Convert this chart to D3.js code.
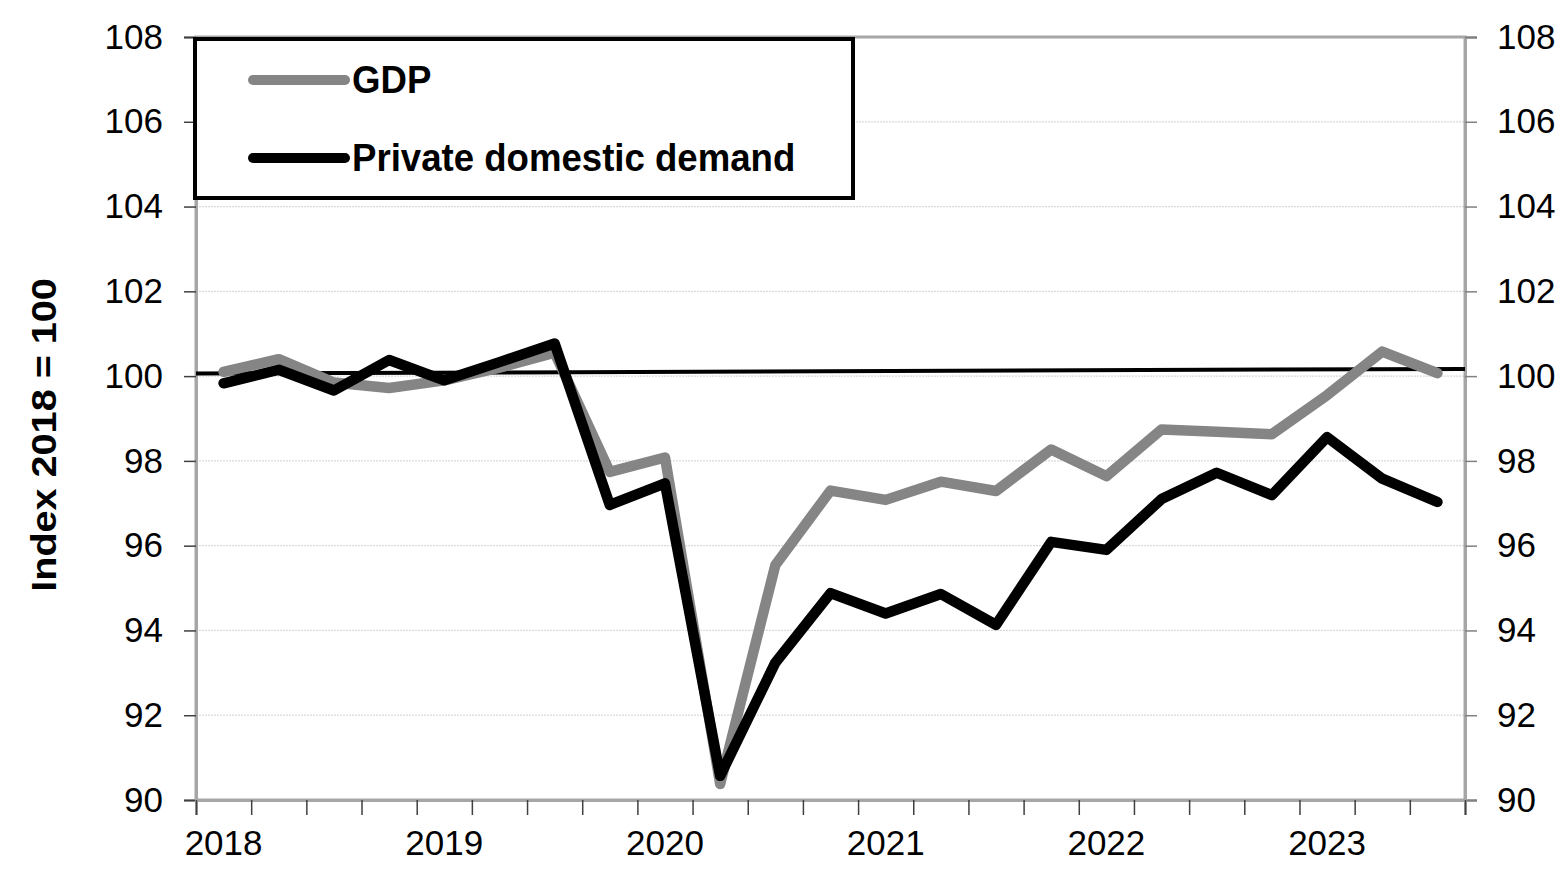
<!DOCTYPE html>
<html>
<head>
<meta charset="utf-8">
<script src="https://cdn.jsdelivr.net/npm/d3@7"></script>
<style>
  html, body { margin: 0; padding: 0; background: #ffffff; }
  svg { display: block; }
  text { font-family: "Liberation Sans", Arial, sans-serif; fill: #000; }
</style>
</head>
<body>
<svg id="chart" width="1565" height="884"></svg>
<script>
// ---- data ----
const quarters = [
  "2018Q1","2018Q2","2018Q3","2018Q4",
  "2019Q1","2019Q2","2019Q3","2019Q4",
  "2020Q1","2020Q2","2020Q3","2020Q4",
  "2021Q1","2021Q2","2021Q3","2021Q4",
  "2022Q1","2022Q2","2022Q3","2022Q4",
  "2023Q1","2023Q2","2023Q3"
];
const yearLabels = ["2018","2019","2020","2021","2022","2023"];
const gdp = [100.10, 100.40, 99.85, 99.72, 99.90, 100.20, 100.55, 97.74, 98.08, 90.38, 95.54, 97.30,
             97.08, 97.51, 97.29, 98.27, 97.64, 98.74, 98.69, 98.63, 99.55, 100.58, 100.07];
const privateDemand = [99.83, 100.15, 99.66, 100.38, 99.90, 100.33, 100.77, 96.96, 97.47, 90.57, 93.24, 94.88,
                       94.40, 94.86, 94.13, 96.09, 95.90, 97.10, 97.72, 97.19, 98.56, 97.58, 97.03];
const referenceLine = [100.06, 100.17]; // start / end of the horizontal reference line
const yTicks = [90, 92, 94, 96, 98, 100, 102, 104, 106, 108];
const seriesNames = ["GDP", "Private domestic demand"];
const yTitle = "Index 2018 = 100";

(function () {
// ---- layout ----
const mLeft = 196, mRight = 1465, mTop = 37, mBottom = 800;
const svg = d3.select("#chart");

const x = d3.scaleBand().domain(quarters).range([mLeft, mRight]).padding(0);
const bw = x.bandwidth();
const xEdge = d3.scaleLinear().domain([0, quarters.length]).range([mLeft, mRight]);
const y = d3.scaleLinear().domain([90, 108]).range([mBottom, mTop]);

// gridlines
svg.append("g")
  .selectAll("line")
  .data(yTicks.filter(v => v > 90 && v < 108))
  .join("line")
  .attr("x1", mLeft).attr("x2", mRight)
  .attr("y1", d => y(d)).attr("y2", d => y(d))
  .attr("stroke", "#d9d9d9").attr("stroke-width", 1.2)
  .attr("stroke-dasharray", "2,1");

// plot frame
svg.append("rect")
  .attr("x", mLeft).attr("y", mTop)
  .attr("width", mRight - mLeft).attr("height", mBottom - mTop)
  .attr("fill", "none").attr("stroke", "#a6a6a6").attr("stroke-width", 3);

// left axis
const yAxisL = svg.append("g")
  .attr("transform", `translate(${mLeft},0)`)
  .call(d3.axisLeft(y).tickValues(yTicks).tickSize(12).tickPadding(21).tickFormat(d3.format("d")));
yAxisL.select(".domain").attr("stroke", "#a6a6a6").attr("stroke-width", 3);
yAxisL.selectAll(".tick line").attr("stroke", "#404040").attr("stroke-width", 1.5);
yAxisL.selectAll(".tick text").style("font-size", "35px").attr("fill", "#000");

// right axis
const yAxisR = svg.append("g")
  .attr("transform", `translate(${mRight},0)`)
  .call(d3.axisRight(y).tickValues(yTicks).tickSize(12).tickPadding(20).tickFormat(d3.format("d")));
yAxisR.select(".domain").attr("stroke", "#a6a6a6").attr("stroke-width", 3);
yAxisR.selectAll(".tick line").attr("stroke", "#808080").attr("stroke-width", 1.5);
yAxisR.selectAll(".tick text").style("font-size", "35px").attr("fill", "#000");

// bottom axis ticks at band boundaries
const xAxisTicks = svg.append("g")
  .attr("transform", `translate(0,${mBottom})`)
  .call(d3.axisBottom(xEdge).tickValues(d3.range(quarters.length + 1)).tickSize(15).tickFormat(""));
xAxisTicks.select(".domain").attr("stroke", "#a6a6a6").attr("stroke-width", 3);
xAxisTicks.selectAll(".tick line").attr("stroke", "#404040").attr("stroke-width", 1.5);

// year labels at first quarter of each year
const xAxisLabels = svg.append("g")
  .attr("transform", `translate(0,${mBottom})`)
  .call(d3.axisBottom(x)
    .tickValues(yearLabels.map(yr => yr + "Q1"))
    .tickSize(0).tickPadding(30)
    .tickFormat(d => d.slice(0, 4)));
xAxisLabels.select(".domain").remove();
xAxisLabels.selectAll(".tick text").style("font-size", "35px").attr("fill", "#000");

// y title
svg.append("text")
  .attr("transform", `translate(56,435) rotate(-90) scale(1.1,1)`)
  .attr("text-anchor", "middle")
  .style("font-size", "36px").style("font-weight", "bold")
  .text(yTitle);

// reference line
svg.append("line")
  .attr("x1", xEdge(0)).attr("x2", xEdge(quarters.length))
  .attr("y1", y(referenceLine[0])).attr("y2", y(referenceLine[1]))
  .attr("stroke", "#000").attr("stroke-width", 4);

// series lines
const line = d3.line()
  .x((d, i) => x(quarters[i]) + bw / 2)
  .y(d => y(d));

svg.append("path")
  .datum(gdp)
  .attr("d", line)
  .attr("fill", "none").attr("stroke", "#858585").attr("stroke-width", 10.5)
  .attr("stroke-linejoin", "round").attr("stroke-linecap", "round");

svg.append("path")
  .datum(privateDemand)
  .attr("d", line)
  .attr("fill", "none").attr("stroke", "#000").attr("stroke-width", 10.5)
  .attr("stroke-linejoin", "round").attr("stroke-linecap", "round");

// legend
const lg = svg.append("g");
lg.append("rect")
  .attr("x", 195).attr("y", 39).attr("width", 658).attr("height", 159)
  .attr("fill", "#fff").attr("stroke", "#000").attr("stroke-width", 4);
const legendColors = ["#858585", "#000"];
const legendY = [80, 158];
seriesNames.forEach((name, i) => {
  lg.append("line")
    .attr("x1", 253).attr("x2", 345)
    .attr("y1", legendY[i]).attr("y2", legendY[i])
    .attr("stroke", legendColors[i]).attr("stroke-width", 10).attr("stroke-linecap", "round");
  lg.append("text")
    .attr("transform", `translate(352,${legendY[i] + 13}) scale(1,1.06)`)
    .style("font-size", "36.6px").style("font-weight", "bold")
    .text(name);
});
})();
</script>
</body>
</html>
